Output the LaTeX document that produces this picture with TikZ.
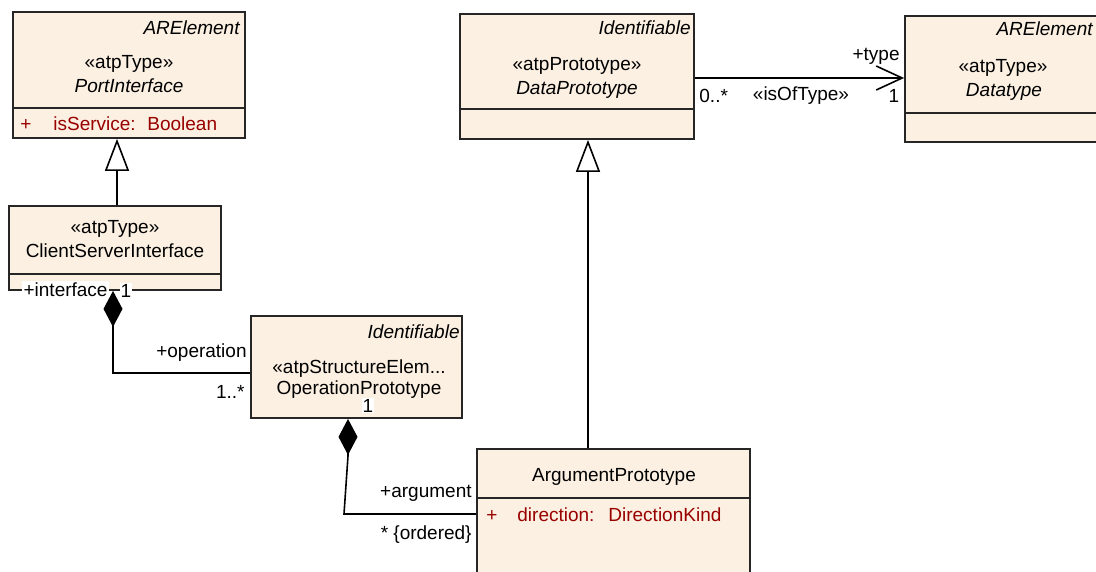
\documentclass[tikz,border=0pt]{standalone}
\usepackage{fontspec}
\setmainfont{Liberation Sans}
\usetikzlibrary{arrows.meta,fit,calc}
\definecolor{classfill}{RGB}{251,240,226}
\definecolor{attrred}{RGB}{153,0,0}

\begin{document}
\begin{tikzpicture}[x=0.5pt,y=-0.5pt,
  classbox/.style={draw=black!85, line width=0.9pt, fill=classfill, inner sep=0pt},
  divider/.style={draw=black!85, line width=0.9pt},
  txt/.style={font=\fontsize{9.5}{11}\selectfont, inner sep=0pt, anchor=mid},
  itxt/.style={txt, font=\fontsize{9.5}{11}\selectfont\itshape},
  attr/.style={txt, text=attrred, anchor=mid west},
  endlab/.style={txt, fill=white, inner sep=0.6pt},
  conn/.style={draw=black, line width=0.8pt},
  gen/.style={conn, -{Triangle[open, length=16pt, width=12pt, fill=white]}},
  compo/.style={conn, {Diamond[length=18pt, width=9.5pt]}-},
  assoc/.style={conn, -{Straight Barb[length=13pt, width=12pt]}}
]
\useasboundingbox (0,0) rectangle (1096,572);
\clip (0,0) rectangle (1096,572);

% ---------- class boxes ----------
\node[classbox, fit={(13,12)(245,138)}] (pi) {};
\draw[divider] (13,108) -- (245,108);
\node[itxt, anchor=mid east] (pist) at (240,29) {ARElement};
\node[txt] (pis) at (129,63) {«atpType»};
\node[itxt] (pin) at (129,87) {PortInterface};
\node[attr, anchor=mid] (pia) at (26,125) {+};
\node[attr] (pib) at (53,125) {isService:};
\node[attr] (pic) at (147,125) {Boolean};

\node[classbox, fit={(9,206)(221,290)}] (csi) {};
\draw[divider] (9,274) -- (221,274);
\node[txt] (csis) at (115,228) {«atpType»};
\node[txt] (csin) at (115,252) {ClientServerInterface};

\node[classbox, fit={(251,316)(462,418)}] (op) {};
\node[itxt, anchor=mid east] (opst) at (460,333) {Identifiable};
\node[txt] (ops) at (359,368) {«atpStructureElem...};
\node[txt] (opn) at (359,389) {OperationPrototype};

\node[classbox, fit={(460,14)(694,139)}] (dp) {};
\draw[divider] (460,109) -- (694,109);
\node[itxt, anchor=mid east] (dpst) at (691,29) {Identifiable};
\node[txt] (dps) at (577,65) {«atpPrototype»};
\node[itxt] (dpn) at (577,89) {DataPrototype};

\node[classbox, fit={(905,16)(1100,142)}] (dt) {};
\draw[divider] (905,113) -- (1100,113);
\node[itxt, anchor=mid east] (dtst) at (1093,30) {ARElement};
\node[txt] (dts) at (1003,67) {«atpType»};
\node[itxt] (dtn) at (1004,91) {Datatype};

\node[classbox, fit={(477,449)(750,610)}] (ap) {};
\draw[divider] (477,498) -- (750,498);
\node[txt] (apn) at (614,476) {ArgumentPrototype};
\node[attr, anchor=mid] (apa) at (492,516) {+};
\node[attr] (apb) at (517,516) {direction:};
\node[attr] (apc) at (608,516) {DirectionKind};

% ---------- connectors ----------
\coordinate (g1) at (117,0);
\draw[gen] (csi.north -| g1) -- (pi.south -| g1);

\coordinate (g2) at (588,0);
\draw[gen] (ap.north -| g2) -- (dp.south -| g2);

\coordinate (c1) at (113,373);
\draw[compo] (csi.south -| c1) -- (c1) -- (op.west |- c1);

\coordinate (c2) at (348,0);
\coordinate (c3) at (344,514);
\draw[compo] (op.south -| c2) -- ($(op.south -| c2)+(0,37)$) -- (c3) -- (ap.west |- c3);

\coordinate (a1) at (0,78);
\draw[assoc] (dp.east |- a1) -- (dt.west |- a1);

% ---------- association end labels ----------
\node[endlab, anchor=mid west] (l1) at (22,291) {+interface};
\node[endlab] (l2) at (126,292) {1};
\node[txt, anchor=mid east] (l3) at (247,352) {+operation};
\node[txt, anchor=mid east] (l4) at (245,393) {1..*};
\node[endlab] (l5) at (368,407) {1};
\node[txt, anchor=mid east] (l6) at (472,492) {+argument};
\node[txt, anchor=mid east] (l7) at (472,534) {* \{ordered\}};
\node[txt, anchor=mid east] (l8) at (900,55) {+type};
\node[txt, anchor=mid west] (l9) at (699,97) {0..*};
\node[txt] (l10) at (801,95) {«isOfType»};
\node[txt] (l11) at (894,97) {1};
\end{tikzpicture}
\end{document}
